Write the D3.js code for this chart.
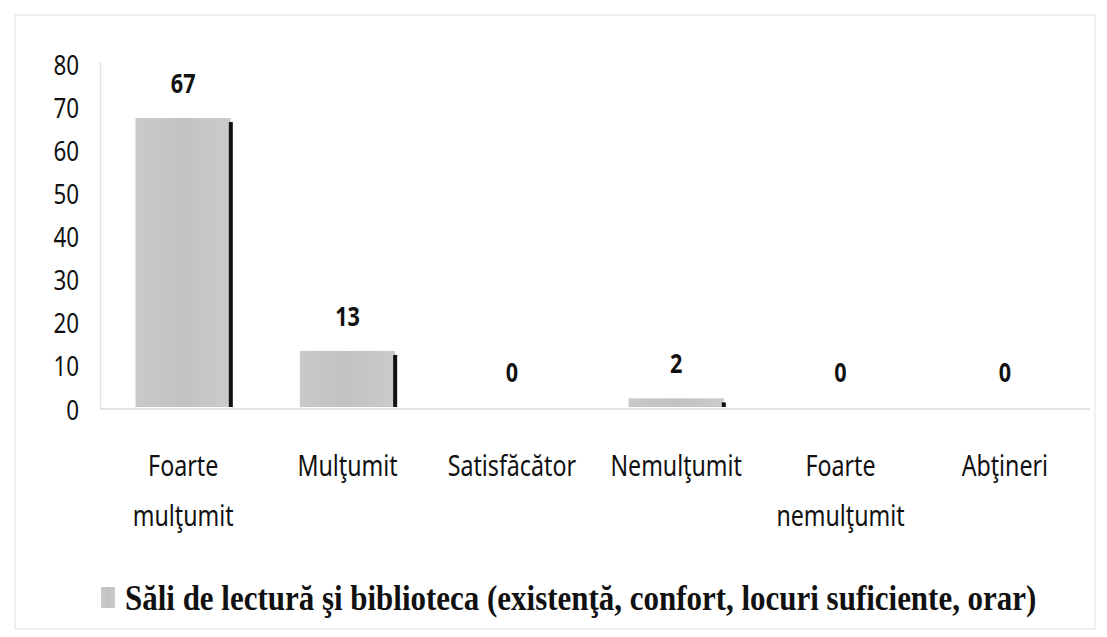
<!DOCTYPE html>
<html>
<head>
<meta charset="utf-8">
<script src="https://cdn.jsdelivr.net/npm/d3@7"></script>
<style>
  body { margin: 0; background: #fff; }
  svg { display: block; }
</style>
</head>
<body>
<div id="chart"></div>
<script>
// data
var categories = [['Foarte', 'mulţumit'], ['Mulţumit'], ['Satisfăcător'], ['Nemulţumit'], ['Foarte', 'nemulţumit'], ['Abţineri']];
var values = [67, 13, 0, 2, 0, 0];
var yTicks = [0, 10, 20, 30, 40, 50, 60, 70, 80];
var seriesName = 'Săli de lectură şi biblioteca (existenţă, confort, locuri suficiente, orar)';

var svgWidth = 1107;
var svgHeight = 637;

var svg = d3.select('#chart')
    .append('svg')
    .attr('width', svgWidth)
    .attr('height', svgHeight);

// bar fill gradient
var grad = svg.append('defs').append('linearGradient')
    .attr('id', 'barFill')
    .attr('x1', '0%').attr('x2', '100%').attr('y1', '0%').attr('y2', '0%');
grad.append('stop').attr('offset', '0%').attr('stop-color', '#c9c9c9');
grad.append('stop').attr('offset', '50%').attr('stop-color', '#c2c2c2');
grad.append('stop').attr('offset', '100%').attr('stop-color', '#cbcbcb');

// faint chart frame
svg.append('rect')
    .attr('x', 15).attr('y', 15)
    .attr('width', 1080).attr('height', 614)
    .attr('fill', 'none')
    .attr('stroke', '#ececec')
    .attr('stroke-width', 1.5);

var x = d3.scaleBand()
    .domain(d3.range(categories.length))
    .range([101, 1087])
    .paddingInner(0.42)
    .paddingOuter(0.21);

var y = d3.scaleLinear()
    .domain([0, 80])
    .range([407, 62]);

var sx = 0.8; // horizontal squeeze, the scan is stretched vertically

// y axis
var yAxis = svg.append('g')
    .attr('transform', 'translate(100,0)')
    .call(d3.axisLeft(y).tickValues(yTicks).tickSize(0).tickPadding(0));
yAxis.select('.domain').attr('stroke', '#e4e4e4').attr('stroke-width', 1.5);
yAxis.selectAll('text')
    .attr('x', null)
    .attr('y', null)
    .attr('dy', null)
    .attr('dominant-baseline', 'central')
    .attr('text-anchor', 'end')
    .attr('transform', `translate(-21,1) scale(${sx},1)`)
    .style('font-family', 'Noto Sans')
    .style('font-size', '28px')
    .attr('fill', '#111');

// baseline
svg.append('line')
    .attr('x1', 100).attr('x2', 1090)
    .attr('y1', y(0) + 2).attr('y2', y(0) + 2)
    .attr('stroke', '#e2e2e2')
    .attr('stroke-width', 2);

// bars
var bars = svg.selectAll('.bar')
    .data(values)
    .enter()
    .append('g')
    .attr('class', 'bar');

bars.append('rect')
    .attr('x', (d, i) => x(i))
    .attr('y', d => y(d))
    .attr('width', x.bandwidth())
    .attr('height', d => y(0) - y(d))
    .attr('fill', 'url(#barFill)');

// dark right edge
bars.append('rect')
    .attr('x', (d, i) => x(i) + x.bandwidth() - 2)
    .attr('y', d => y(d) + 4)
    .attr('width', 4)
    .attr('height', d => d > 0 ? Math.max(2, y(0) - y(d) - 4) : 0)
    .attr('fill', '#111');

// value labels
svg.selectAll('.valueLabel')
    .data(values)
    .enter()
    .append('text')
    .attr('class', 'valueLabel')
    .attr('text-anchor', 'middle')
    .attr('transform', (d, i) => `translate(${x(i) + x.bandwidth() / 2},${y(d) - 25}) scale(${sx},1)`)
    .style('font-family', 'Noto Sans')
    .style('font-weight', 'bold')
    .style('font-size', '27px')
    .attr('fill', '#111')
    .text(d => d);

// category labels
var cats = svg.selectAll('.catLabel')
    .data(categories)
    .enter()
    .append('text')
    .attr('class', 'catLabel')
    .attr('text-anchor', 'middle')
    .attr('transform', (d, i) => `translate(${x(i) + x.bandwidth() / 2},476) scale(${sx},1)`)
    .style('font-family', 'Noto Sans')
    .style('font-size', '29px')
    .attr('fill', '#111');

cats.selectAll('tspan')
    .data(d => d)
    .enter()
    .append('tspan')
    .attr('x', 0)
    .attr('y', (d, i) => i * 50)
    .text(d => d);

// legend
svg.append('rect')
    .attr('x', 101).attr('y', 587)
    .attr('width', 14).attr('height', 21)
    .attr('fill', 'url(#barFill)');

svg.append('text')
    .attr('transform', 'translate(125,610) scale(0.885,1)')
    .style('font-family', 'Liberation Serif')
    .style('font-weight', 'bold')
    .style('font-size', '35px')
    .attr('fill', '#111')
    .text(seriesName);
</script>
</body>
</html>
